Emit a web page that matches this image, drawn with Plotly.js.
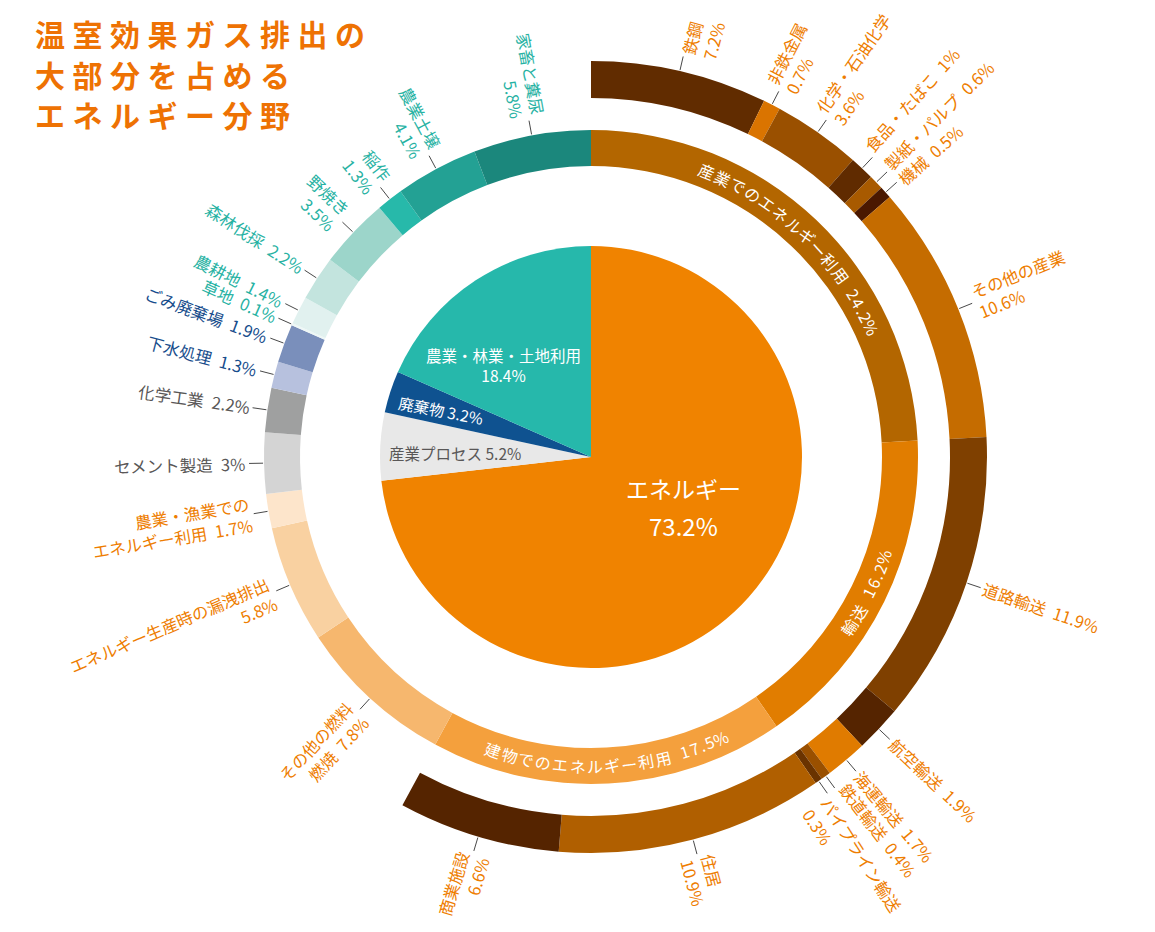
<!DOCTYPE html>
<html><head><meta charset="utf-8">
<script src="https://cdn.plot.ly/plotly-3.0.1.min.js"></script>
<style>html,body{margin:0;padding:0;background:#fff}</style>
</head><body><div id="chart" style="width:1155px;height:932px"></div>
<script>
// ---------------- data ----------------
const titleLines = ['温室効果ガス排出の', '大部分を占める', 'エネルギー分野'];

const pieLabels = ['エネルギー', '産業プロセス', '廃棄物', '農業・林業・土地利用'];
const pieValues = [73.2, 5.2, 3.2, 18.4];

const midLabels = ['産業でのエネルギー利用', '輸送', '建物でのエネルギー利用', 'その他の燃料燃焼',
  'エネルギー生産時の漏洩排出', '農業・漁業でのエネルギー利用', 'セメント製造', '化学工業',
  '下水処理', 'ごみ廃棄場', '草地', '農耕地', '森林伐採', '野焼き', '稲作', '農業土壌', '家畜と糞尿'];
const midValues = [24.2, 16.2, 17.5, 7.8, 5.8, 1.7, 3, 2.2, 1.3, 1.9, 0.1, 1.4, 2.2, 3.5, 1.3, 4.1, 5.8];
const midText = [null, null, null, 'その他の燃料<br>燃焼 {v}%', 'エネルギー生産時の漏洩排出<br>{v}%',
  '農業・漁業での<br>エネルギー利用 {v}%', 'セメント製造 {v}%', '化学工業 {v}%', '下水処理 {v}%',
  'ごみ廃棄場 {v}%', '草地 {v}%', '農耕地 {v}%', '森林伐採 {v}%', '野焼き<br>{v}%', '稲作<br>{v}%',
  '農業土壌<br>{v}%', '家畜と糞尿<br>{v}%'];

const outerLabels = ['鉄鋼', '非鉄金属', '化学・石油化学', '食品・たばこ', '製紙・パルプ', '機械', 'その他の産業',
  '道路輸送', '航空輸送', '海運輸送', '鉄道輸送', 'パイプライン輸送', '住居', '商業施設'];
const outerValues = [7.2, 0.7, 3.6, 1, 0.6, 0.5, 10.6, 11.9, 1.9, 1.7, 0.4, 0.3, 10.9, 6.6];
const outerText = ['鉄鋼<br>{v}%', '非鉄金属<br>{v}%', '化学・石油化学<br>{v}%', '食品・たばこ {v}%',
  '製紙・パルプ {v}%', '機械 {v}%', 'その他の産業<br>{v}%', '道路輸送 {v}%', '航空輸送 {v}%',
  '海運輸送 {v}%', '鉄道輸送 {v}%', 'パイプライン輸送<br>{v}%', '住居<br>{v}%', '商業施設<br>{v}%'];

// ---------------- style ----------------
const F = '"Noto Sans CJK JP", "Noto Sans", sans-serif';
const W = 1155, H = 932, CX = 591, CY = 457;
const R_PIE = 211, R_MID_IN = 291, R_MID_OUT = 327, R_OUT_IN = 359, R_OUT_OUT = 396;
const ORANGE = '#EE7D00', TEAL = '#27B2A3', BLUE = '#174D8C', GRAY = '#595757';
const GAP = '\u2002';

const pieColors = ['#F08300', '#E8E8E8', '#0F5290', '#26B8AB'];
const midColors = ['#B36600', '#E17D00', '#F4A03D', '#F6B76E', '#F9D1A1', '#FDE5CB', '#D4D4D4', '#9FA0A0',
  '#B7C1DE', '#7A8FBB', '#EEF7F6', '#E1F1EF', '#C3E4DE', '#9CD5CA', '#27B9AA', '#23A194', '#1B877C'];
const midTextColors = [null, null, null, ORANGE, ORANGE, ORANGE, GRAY, GRAY, BLUE, BLUE,
  TEAL, TEAL, TEAL, TEAL, TEAL, TEAL, TEAL];
const outerColors = ['#612C00', '#DA7400', '#9A5000', '#602B00', '#A85A00', '#4A1800', '#C56C00',
  '#7F4000', '#552400', '#E07B00', '#9A5000', '#6A3300', '#B05F00', '#552400'];
const outerOffsets = [2, 0, 0, -1.3, -0.6, 0.3, 0, 0, 0, 0, -1.2, 2.2, 0, 0];
const midOffsets = new Array(midValues.length).fill(0);

// ---------------- helpers ----------------
function P(x, y) { return {x: x / W, y: 1 - y / H}; }
function polar(th, r) { const t = th * Math.PI / 180; return P(CX + r * Math.sin(t), CY - r * Math.cos(t)); }
function dom(R) { return {x: [(CX - R) / W, (CX + R) / W], y: [1 - (CY + R) / H, 1 - (CY - R) / H]}; }
function cw(ch) {
  const c = ch.codePointAt(0);
  if (ch === ' ') return 0.3;
  if (ch === GAP) return 0.5;
  if (ch === '.') return 0.27;
  if (ch === '%') return 0.84;
  if (c >= 0x30 && c <= 0x39) return 0.56;
  if (c > 0x2E00) return 1;
  return 0.55;
}
function textWidth(s, fs) {
  return Math.max(...s.split('<br>').map(l => Array.from(l).reduce((a, c) => a + cw(c) * fs, 0)));
}
const annotations = [];
const shapes = [];

// title
titleLines.forEach((t, i) => {
  const p = P(33, [33, 74, 114][i]);
  annotations.push({x: p.x, y: p.y, xref: 'paper', yref: 'paper', xanchor: 'left', yanchor: 'middle',
    showarrow: false, text: Array.from(t).join('\u2005'),
    font: {family: F, size: 30, color: '#EE7203', weight: 'bold'}});
});

// curved text along the ring
function arcText(str, thetaMid, r, dir, fs, sp, color) {
  const chars = Array.from(str);
  const ws = chars.map(c => cw(c) * fs);
  const total = ws.reduce((a, b) => a + b, 0) + sp * (chars.length - 1);
  let pos = -total / 2;
  chars.forEach((c, i) => {
    const center = pos + ws[i] / 2;
    pos += ws[i] + sp;
    if (c === ' ' || c === GAP) return;
    const th = thetaMid + dir * center / r * 180 / Math.PI;
    const p = polar(th, r);
    annotations.push({x: p.x, y: p.y, xref: 'paper', yref: 'paper', xanchor: 'center', yanchor: 'middle',
      showarrow: false, text: c, textangle: dir > 0 ? th : th - 180,
      font: {family: F, size: fs, color: color}});
  });
}

// radial labels with leader lines
function radialLabels(values, texts, colors, offsets, R) {
  let cum = 0;
  values.forEach((v, i) => {
    const mid = (cum + v / 2) * 3.6;
    cum += v;
    if (!texts[i]) return;
    const a = polar(mid, R + 1), b = polar(mid, R + 15);
    shapes.push({type: 'line', xref: 'paper', yref: 'paper', x0: a.x, y0: a.y, x1: b.x, y1: b.y,
      line: {color: '#333', width: 0.9}});
    const th = mid + offsets[i];
    const txt = texts[i].replace(' {v}', GAP + '{v}').replace('{v}', String(v));
    const fs = 16.5;
    const d = R + 19 + textWidth(txt, fs) / 2;
    const p = polar(th, d);
    const right = th < 180;
    annotations.push({x: p.x, y: p.y, xref: 'paper', yref: 'paper', xanchor: 'center', yanchor: 'middle',
      showarrow: false, text: txt, align: right ? 'left' : 'right',
      textangle: right ? th - 90 : th - 270,
      font: {family: F, size: fs, color: colors[i]}});
  });
}
radialLabels(outerValues, outerText, outerValues.map(() => ORANGE), outerOffsets, R_OUT_OUT);
radialLabels(midValues, midText, midTextColors, midOffsets, R_MID_OUT);

// curved labels inside the middle ring
(function () {
  let cum = 0;
  const dirs = [1, -1, -1];
  for (let i = 0; i < 3; i++) {
    const mid = (cum + midValues[i] / 2) * 3.6;
    cum += midValues[i];
    arcText(midLabels[i] + GAP + midValues[i] + '%', mid, 309, dirs[i], 16, 1.2, '#FFFFFF');
  }
})();

// pie labels
function lab(x, y, text, size, color, angle) {
  const p = P(x, y);
  annotations.push({x: p.x, y: p.y, xref: 'paper', yref: 'paper', xanchor: 'center', yanchor: 'middle',
    showarrow: false, text: text, textangle: angle || 0, font: {family: F, size: size, color: color}});
}
lab(683, 488, pieLabels[0], 23, '#FFFFFF');
lab(683, 525, pieValues[0] + '%', 24, '#FFFFFF');
lab(455, 453, pieLabels[1] + ' ' + pieValues[1] + '%', 15.5, GRAY);
lab(441, 410, pieLabels[2] + ' ' + pieValues[2] + '%', 15.5, '#FFFFFF', 11);
lab(503, 365, pieLabels[3] + '<br>' + pieValues[3] + '%', 15.5, '#FFFFFF');

const outerSum = outerValues.reduce((a, b) => a + b, 0);
const common = {type: 'pie', sort: false, direction: 'clockwise', rotation: 0, textinfo: 'none',
  textposition: 'none', hoverinfo: 'label+value', showlegend: false};
const data = [
  Object.assign({}, common, {values: pieValues, labels: pieLabels, domain: dom(R_PIE),
    marker: {colors: pieColors, line: {width: 0}}}),
  Object.assign({}, common, {values: midValues, labels: midLabels, domain: dom(R_MID_OUT),
    hole: R_MID_IN / R_MID_OUT, marker: {colors: midColors, line: {width: 0}}}),
  Object.assign({}, common, {values: outerValues.concat([100 - outerSum]), labels: outerLabels.concat(['_rest']),
    domain: dom(R_OUT_OUT), hole: R_OUT_IN / R_OUT_OUT,
    marker: {colors: outerColors.concat(['rgba(0,0,0,0)']), line: {width: 0}}})
];
const layout = {width: W, height: H, margin: {l: 0, r: 0, t: 0, b: 0}, paper_bgcolor: '#fff',
  showlegend: false, annotations: annotations, shapes: shapes, font: {family: F}};
Plotly.newPlot('chart', data, layout, {staticPlot: true, displayModeBar: false});
</script></body></html>
